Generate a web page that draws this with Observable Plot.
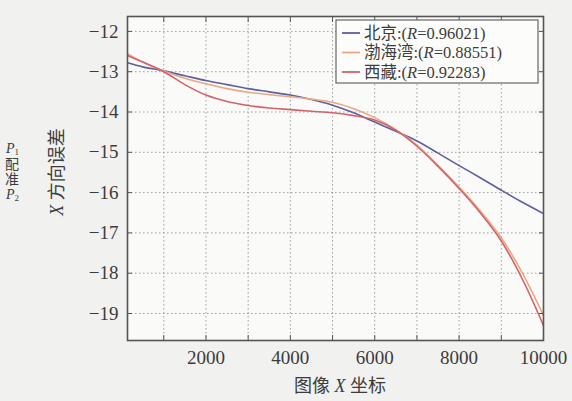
<!DOCTYPE html>
<html><head><meta charset="utf-8">
<script src="https://cdn.jsdelivr.net/npm/d3@7"></script>
<script src="https://cdn.jsdelivr.net/npm/@observablehq/plot@0.6"></script>
<style>
html,body{margin:0;padding:0;background:#f1f1f0;}
#chart{position:relative;width:572px;height:401px;}
</style></head><body>
<div id="chart"></div>
<script>
const xs = [140, 500, 1000, 1500, 2000, 2500, 3000, 3500, 4000, 4500, 5000, 5500, 6000, 6500, 7000, 7500, 8000, 8500, 9000, 9500, 10000];
const beijing = [-12.78, -12.88, -12.98, -13.10, -13.22, -13.32, -13.42, -13.50, -13.58, -13.69, -13.83, -14.02, -14.25, -14.48, -14.72, -15.02, -15.33, -15.63, -15.94, -16.24, -16.52];
const bohai   = [-12.55, -12.76, -12.98, -13.16, -13.30, -13.42, -13.51, -13.57, -13.62, -13.68, -13.76, -13.92, -14.14, -14.44, -14.82, -15.32, -15.86, -16.45, -17.12, -18.00, -19.05];
const xizang  = [-12.60, -12.76, -13.00, -13.32, -13.58, -13.74, -13.84, -13.90, -13.94, -13.98, -14.02, -14.09, -14.20, -14.45, -14.85, -15.35, -15.90, -16.50, -17.20, -18.15, -19.30];
const seriesNames = ["北京", "渤海湾", "西藏"];
const seriesR = ["0.96021", "0.88551", "0.92283"];
const seriesColors = ["#5e5f9e", "#e9a882", "#d4626a"];
const xLabelTicks = [2000, 4000, 6000, 8000, 10000];
const xMinorTicks = [1000, 2000, 3000, 4000, 5000, 6000, 7000, 8000, 9000];
const yTicks = [-19, -18, -17, -16, -15, -14, -13, -12];

const values = [beijing, bohai, xizang];
const rows = [];
seriesNames.forEach((s, j) => xs.forEach((x, i) => rows.push({x, y: values[j][i], s})));

const serif = "'Liberation Serif','Noto Sans CJK SC',serif";
const ink = "#3c3c3c";

const plot = Plot.plot({
  width: 572, height: 401,
  marginLeft: 127, marginRight: 29, marginTop: 16, marginBottom: 61,
  style: {background: "transparent", fontFamily: serif, color: ink, fontSize: "19px"},
  x: {domain: [140, 10000]},
  y: {domain: [-19.67, -11.63]},
  color: {domain: seriesNames, range: seriesColors},
  marks: [
    Plot.frame({fill: "#fafaf9", stroke: null}),
    Plot.gridX({ticks: xMinorTicks, stroke: "#8a8a8a", strokeOpacity: 0.8, strokeDasharray: "1.5,2.5"}),
    Plot.gridY({ticks: yTicks, stroke: "#8a8a8a", strokeOpacity: 0.8, strokeDasharray: "1.5,2.5"}),
    Plot.line(rows, {x: "x", y: "y", z: "s", stroke: "s", strokeWidth: 1.6, curve: "catmull-rom", clip: true}),
    Plot.axisY({ticks: yTicks, tickSize: 0, tickPadding: 9, label: null, fontSize: 19}),
    Plot.axisY({anchor: "left", ticks: yTicks, tickSize: -5, text: null, label: null, stroke: "#555"}),
    Plot.axisY({anchor: "right", ticks: yTicks, tickSize: -5, text: null, label: null, stroke: "#555"}),
    Plot.axisX({ticks: xLabelTicks, tickSize: 0, tickPadding: 10, tickFormat: d3.format("d"), label: null, fontSize: 19}),
    Plot.axisX({anchor: "bottom", ticks: xMinorTicks, tickSize: -5, text: null, label: null, stroke: "#555"}),
    Plot.axisX({anchor: "top", ticks: xMinorTicks, tickSize: -5, text: null, label: null, stroke: "#555"}),
    Plot.frame({stroke: "#555", strokeWidth: 1.6})
  ]
});
document.getElementById("chart").appendChild(plot);

const svg = d3.select(plot);
svg.style("font-family", serif);
svg.selectAll("text").attr("font-family", serif).attr("fill", ink);

// axis titles
const xt = svg.append("text").attr("x", 340).attr("y", 392).attr("text-anchor", "middle")
  .attr("font-family", serif).attr("font-size", 18).attr("fill", ink);
xt.append("tspan").text("图像 ");
xt.append("tspan").attr("font-style", "italic").text("X");
xt.append("tspan").text(" 坐标");

const yt = svg.append("text").attr("transform", "translate(63,172) rotate(-90)").attr("text-anchor", "middle")
  .attr("font-family", serif).attr("font-size", 18).attr("fill", ink);
yt.append("tspan").attr("font-style", "italic").text("X");
yt.append("tspan").text(" 方向误差");

// stray margin text (one vertical block)
const side = svg.append("text").attr("font-family", serif).attr("font-size", 14)
  .attr("fill", ink).attr("text-anchor", "start").attr("y", 153);
side.append("tspan").attr("x", 6).attr("font-style", "italic").text("P");
side.append("tspan").attr("font-size", 9).attr("dy", 2).text("1");
side.append("tspan").attr("x", 5).attr("dy", 14).text("配");
side.append("tspan").attr("x", 5).attr("dy", 15).text("准");
side.append("tspan").attr("x", 6).attr("dy", 15).attr("font-style", "italic").text("P");
side.append("tspan").attr("font-size", 9).attr("dy", 2).text("2");

// legend
const lg = svg.append("g").attr("text-anchor", "start");
lg.append("rect").attr("x", 336).attr("y", 20).attr("width", 202).attr("height", 63)
  .attr("fill", "#fcfcfb").attr("stroke", "#666").attr("stroke-width", 1.2);
seriesNames.forEach((s, i) => {
  const y = 33 + i * 19.5;
  lg.append("line").attr("x1", 342).attr("x2", 360).attr("y1", y).attr("y2", y)
    .attr("stroke", seriesColors[i]).attr("stroke-width", 1.8);
  const t = lg.append("text").attr("x", 364).attr("y", y).attr("dy", "0.35em")
    .attr("font-family", serif).attr("font-size", 16.5).attr("fill", ink);
  t.append("tspan").text(s + ":(");
  t.append("tspan").attr("font-style", "italic").text("R");
  t.append("tspan").text("=" + seriesR[i] + ")");
});
</script>
</body></html>
